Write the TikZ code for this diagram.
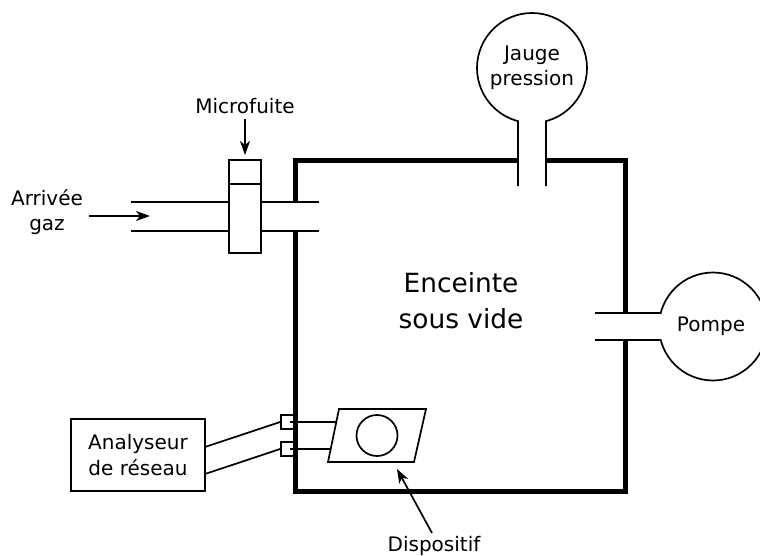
\documentclass[tikz,border=0pt]{standalone}
\usepackage{fontspec}
\setmainfont{DejaVu Sans}
\usetikzlibrary{arrows.meta,shapes.geometric}
\tikzset{
  every node/.style={font=\fontsize{20}{25}\selectfont,align=center,inner sep=0pt},
  thinline/.style={line width=1.7pt,black},
  wall/.style={line width=5pt,black},
  arrowline/.style={thinline,-{Stealth[length=14pt,width=10pt,inset=4pt]}},
  roundpart/.style={circle,draw,line width=1.7pt,fill=white},
  boxpart/.style={rectangle,draw,line width=1.7pt,fill=white},
}
\begin{document}
\begin{tikzpicture}[x=1pt,y=-1pt]
\useasboundingbox (0,0) rectangle (760,556);
\clip (0,0) rectangle (760,556);
% small feedthroughs
\node[boxpart,minimum width=14pt,minimum height=14.5pt] (feedA) at (288,422) {};
\node[boxpart,minimum width=14pt,minimum height=14.5pt] (feedB) at (288,449) {};
% chamber
\node[rectangle,draw,wall,minimum width=330pt,minimum height=330pt] (chamber) at (460,326) {};
\node[font=\fontsize{26.4}{36}\selectfont] (chamberlabel) at (461,301) {Enceinte\\sous vide};
% wall openings
\draw[line width=27.5pt,white] (290,216.5) -- (300,216.5);
\draw[line width=26.5pt,white] (621,326.5) -- (629,326.5);
\draw[line width=27pt,white] (532,157) -- (532,165);
% gauge
\node[roundpart,minimum size=110pt] (gauge) at (532,68) {Jauge\\pression};
\coordinate (gaugeL) at (518,186);
\coordinate (gaugeR) at (546,186);
\coordinate (gaugeLt) at (518,121);
\coordinate (gaugeRt) at (546,121);
\draw[line width=26.5pt,white] (532,118) -- (532,124);
\draw[thinline] (gaugeLt) -- (gaugeL);
\draw[thinline] (gaugeRt) -- (gaugeR);
% pump
\node[roundpart,minimum size=108pt] (pump) at (713,326.5) {};
\node (pumplabel) at (711,326) {Pompe};
\coordinate (pumpT) at (661,313);
\coordinate (pumpB) at (661,340);
\coordinate (pumpTe) at (595,313);
\coordinate (pumpBe) at (595,340);
\draw[line width=25.5pt,white] (658,326.5) -- (665,326.5);
\draw[thinline] (pumpTe) -- (pumpT);
\draw[thinline] (pumpBe) -- (pumpB);
% inlet pipes
\node[boxpart,minimum width=32pt,minimum height=93pt] (valve) at (245,206.5) {};
\coordinate (divL) at (229,184);
\coordinate (divR) at (261,184);
\draw[thinline] (divL) -- (divR);
\coordinate (inTa) at (131,202);
\coordinate (inBa) at (131,231);
\coordinate (inTb) at (319,202);
\coordinate (inBb) at (319,231);
\draw[thinline] (inTa) -- (inTa -| valve.west);
\draw[thinline] (inBa) -- (inBa -| valve.west);
\draw[thinline] (inTb -| valve.east) -- (inTb);
\draw[thinline] (inBb -| valve.east) -- (inBb);
% microfuite
\node (micro) at (245,106) {Microfuite};
\coordinate (microEnd) at (245,155);
\draw[arrowline] (micro.south) ++(0,5) -- (microEnd);
% gas inlet
\node (gas) at (47,212) {Arrivée\\gaz};
\coordinate (gasS) at (89,216);
\coordinate (gasE) at (150,216);
\draw[arrowline] (gasS) -- (gasE);
% analyser
\node[boxpart,minimum width=134pt,minimum height=72pt,font=\fontsize{20}{26}\selectfont] (analyser) at (138,455) {Analyseur\\de réseau};
\coordinate (anA) at (205,447);
\coordinate (anB) at (205,474);
\draw[thinline] (anA) -- (feedA.west);
\draw[thinline] (anB) -- (feedB.west);
% device
\coordinate (dA) at (339,409);
\coordinate (dB) at (426,409);
\coordinate (dC) at (414,462);
\coordinate (dD) at (328,462);
\draw[thinline,fill=white] (dA) -- (dB) -- (dC) -- (dD) -- cycle;
\node[circle,draw,line width=1.7pt,minimum size=41pt] (hole) at (377,435.5) {};
\coordinate (dLa) at (337,422);
\coordinate (dLb) at (330,449);
\draw[thinline] (feedA.center) ++(2,0) -- (dLa);
\draw[thinline] (feedB.center) ++(2,0) -- (dLb);
% dispositif
\node (disp) at (434,546) {Dispositif};
\coordinate (dispS) at (432,533);
\coordinate (dispE) at (397,469);
\draw[arrowline] (dispS) -- (dispE);
\end{tikzpicture}
\end{document}
